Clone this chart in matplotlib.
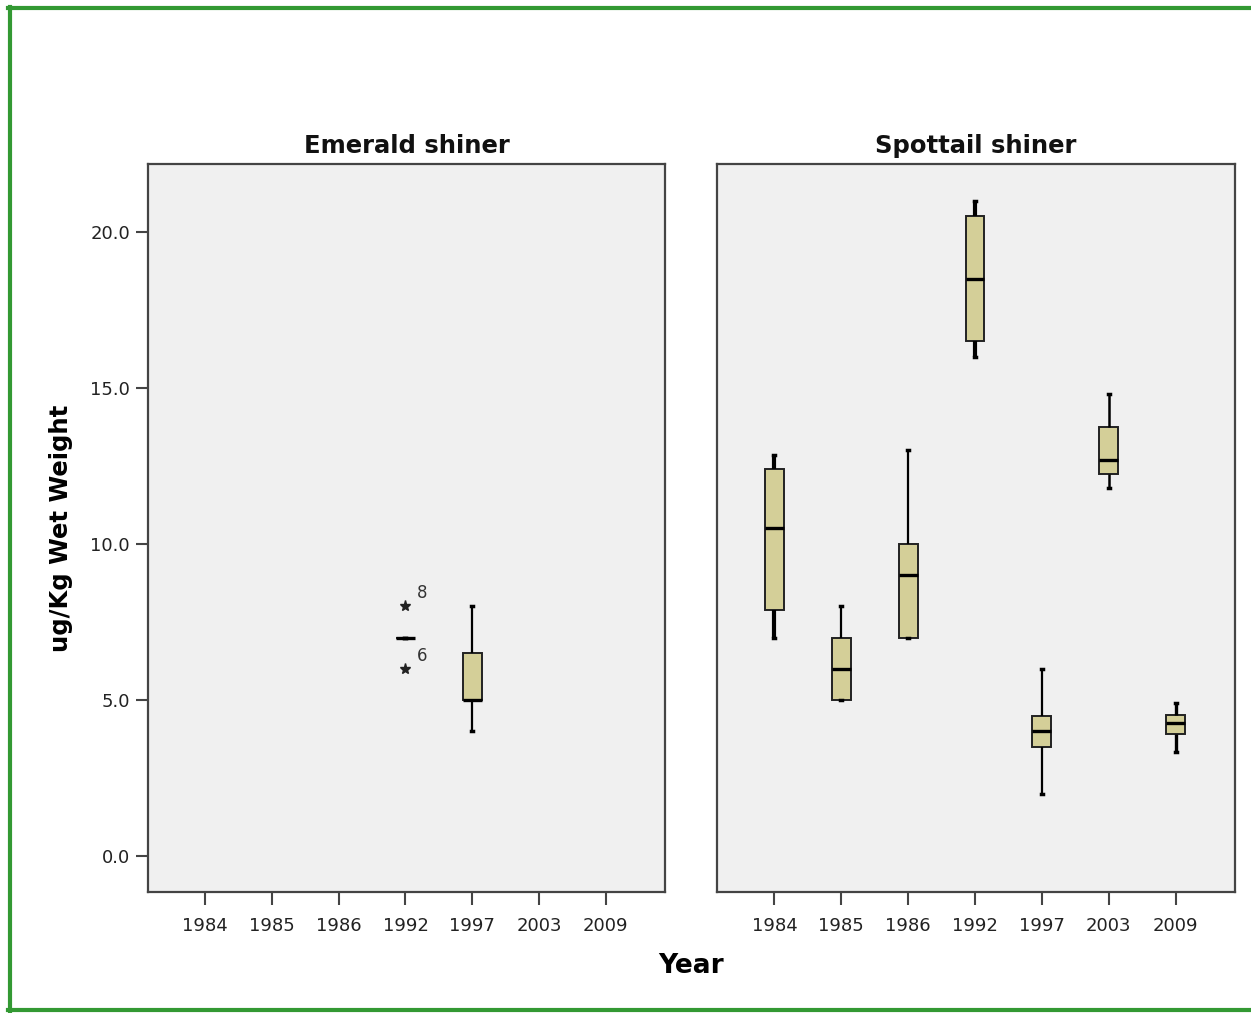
import matplotlib
matplotlib.use("Agg")
import matplotlib.pyplot as plt
from matplotlib.lines import Line2D

# ---- data ----
years = ["1984", "1985", "1986", "1992", "1997", "2003", "2009"]
panels = ["Emerald shiner", "Spottail shiner"]

# Emerald shiner (only 1992 and 1997 have data)
em_years = ["1992", "1997"]
em_whislo = [7.0, 4.0]
em_q1 = [7.0, 5.0]
em_med = [7.0, 5.0]
em_q3 = [7.0, 6.5]
em_whishi = [7.0, 8.0]
em_outliers = [[8.0, 6.0], []]
em_outlier_labels = [["8", "6"], []]

# Spottail shiner
sp_years = ["1984", "1985", "1986", "1992", "1997", "2003", "2009"]
sp_whislo = [7.0, 5.0, 7.0, 16.0, 2.0, 11.8, 3.35]
sp_q1 = [7.9, 5.0, 7.0, 16.5, 3.5, 12.25, 3.9]
sp_med = [10.5, 6.0, 9.0, 18.5, 4.0, 12.7, 4.27]
sp_q3 = [12.4, 7.0, 10.0, 20.5, 4.5, 13.75, 4.52]
sp_whishi = [12.85, 8.0, 13.0, 21.0, 6.0, 14.8, 4.92]

yticks = [0.0, 5.0, 10.0, 15.0, 20.0]

# ---- figure ----
W, H = 1251, 1013
fig = plt.figure(figsize=(W / 100, H / 100), dpi=100)
fig.patch.set_facecolor("white")

def px_axes(x0, x1, y0, y1):
    return fig.add_axes([x0 / W, (H - y1) / H, (x1 - x0) / W, (y1 - y0) / H])

ax_l = px_axes(148, 665, 164, 892)
ax_r = px_axes(717, 1235, 164, 892)

box_fill = "#D4CF98"
edge = "#222222"
frame_c = "#444444"

def stats(ylist, lo, q1, med, q3, hi):
    out = []
    for i, y in enumerate(ylist):
        out.append(dict(label=y, whislo=lo[i], q1=q1[i], med=med[i], q3=q3[i],
                        whishi=hi[i], fliers=[]))
    return out

def draw(ax, ylist, st, wlw):
    pos = [years.index(y) for y in ylist]
    for s, p, lw in zip(st, pos, wlw):
        ax.bxp([s], positions=[p], widths=0.28, patch_artist=True,
               showfliers=False, capwidths=[0.03],
               boxprops=dict(facecolor=box_fill, edgecolor=edge, linewidth=1.4),
               medianprops=dict(color="black", linewidth=2.4),
               whiskerprops=dict(color="black", linewidth=lw,
                                 solid_capstyle="butt"),
               capprops=dict(color="black", linewidth=2.5))

em_st = stats(em_years, em_whislo, em_q1, em_med, em_q3, em_whishi)
sp_st = stats(sp_years, sp_whislo, sp_q1, sp_med, sp_q3, sp_whishi)
draw(ax_l, em_years, em_st, [2.0, 1.6])
draw(ax_r, sp_years, sp_st, [3.0, 1.6, 1.6, 3.0, 1.6, 1.8, 2.4])

# outliers with case labels
for y, outs, labs in zip(em_years, em_outliers, em_outlier_labels):
    p = years.index(y)
    for v, lab in zip(outs, labs):
        ax_l.plot([p], [v], marker="*", color="#222222", markersize=8,
                  linestyle="none")
        ax_l.annotate(lab, (p, v), xytext=(8, 6), textcoords="offset points",
                      fontsize=12, color="#333333", family="DejaVu Sans")

for ax, title in zip([ax_l, ax_r], panels):
    ax.set_facecolor("#F0F0F0")
    ax.set_xlim(-0.86, 6.89)
    ax.set_ylim(-1.15, 22.18)
    ax.set_xticks(range(len(years)))
    ax.set_xticklabels(years, fontsize=13, color="#222222", family="DejaVu Sans")
    for sp in ax.spines.values():
        sp.set_color(frame_c)
        sp.set_linewidth(1.6)
    ax.tick_params(axis="x", length=9, width=1.5, color=frame_c, pad=9)
    ax.set_title(title, fontsize=17.5, fontweight="bold", family="DejaVu Sans",
                 pad=8, color="#111111")

ax_l.set_yticks(yticks)
ax_l.set_yticklabels([f"{v:.1f}" for v in yticks], fontsize=13,
                     color="#222222", family="DejaVu Sans")
ax_l.tick_params(axis="y", length=9, width=1.5, color=frame_c, pad=4)
ax_r.set_yticks([])
ax_l.set_ylabel("ug/Kg Wet Weight", fontsize=17.5, fontweight="bold",
                family="DejaVu Sans", labelpad=12)

fig.text(691 / W, 1 - 966 / H, "Year", fontsize=19, fontweight="bold",
         family="DejaVu Sans", ha="center", va="center")

# green border (left, top, bottom; right edge cropped)
gc = "#339933"
fig.add_artist(Line2D([9.5 / W, 9.5 / W], [1 - 7 / H, 1 - 1011 / H],
                      transform=fig.transFigure, color=gc, linewidth=3))
fig.add_artist(Line2D([8 / W, 1.0], [1 - 8.5 / H, 1 - 8.5 / H],
                      transform=fig.transFigure, color=gc, linewidth=3))
fig.add_artist(Line2D([8 / W, 1.0], [1 - 1009.5 / H, 1 - 1009.5 / H],
                      transform=fig.transFigure, color=gc, linewidth=3))

fig.savefig("out.png", dpi=100)
